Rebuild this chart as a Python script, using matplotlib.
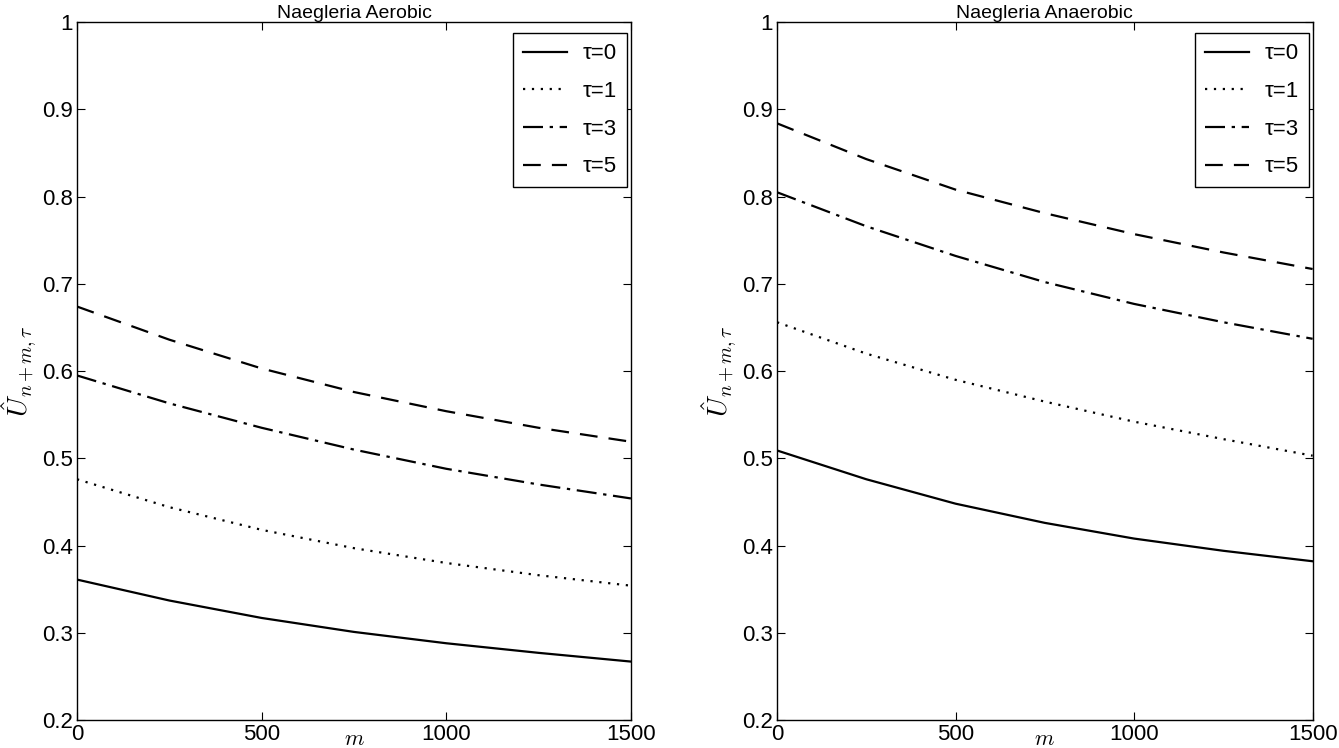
import numpy as np
import matplotlib
matplotlib.use("Agg")
import matplotlib.pyplot as plt

plt.rcParams['font.family'] = ['Liberation Sans', 'DejaVu Sans']
plt.rcParams['mathtext.fontset'] = 'cm'

m = [0, 250, 500, 750, 1000, 1250, 1500]
taus = [0, 1, 3, 5]

# Naegleria Aerobic
aer_tau0 = [0.361, 0.337, 0.317, 0.301, 0.288, 0.277, 0.267]
aer_tau1 = [0.476, 0.444, 0.418, 0.397, 0.380, 0.366, 0.354]
aer_tau3 = [0.595, 0.563, 0.535, 0.510, 0.488, 0.470, 0.454]
aer_tau5 = [0.674, 0.636, 0.603, 0.576, 0.554, 0.535, 0.519]

# Naegleria Anaerobic
ana_tau0 = [0.509, 0.476, 0.448, 0.426, 0.408, 0.394, 0.382]
ana_tau1 = [0.656, 0.620, 0.590, 0.565, 0.542, 0.522, 0.503]
ana_tau3 = [0.805, 0.766, 0.732, 0.702, 0.677, 0.656, 0.637]
ana_tau5 = [0.884, 0.843, 0.808, 0.781, 0.757, 0.736, 0.717]

styles = ['-', (0, (1, 3)), (0, (9, 3, 1.5, 3)), (0, (8, 5))]

fig = plt.figure(figsize=(13.39, 7.48), dpi=100)
ax1 = fig.add_axes([0.0575, 0.0374, 0.4137, 0.933])
ax2 = fig.add_axes([0.5803, 0.0374, 0.4, 0.933])

panels = [
    (ax1, "Naegleria Aerobic", [aer_tau0, aer_tau1, aer_tau3, aer_tau5]),
    (ax2, "Naegleria Anaerobic", [ana_tau0, ana_tau1, ana_tau3, ana_tau5]),
]

for ax, title, series in panels:
    for t, ys, ls in zip(taus, series, styles):
        ax.plot(m, ys, color='black', linestyle=ls, linewidth=1.6, label=f"τ={t}")
    ax.set_xlim(0, 1500)
    ax.set_ylim(0.2, 1.0)
    ax.set_xticks([0, 500, 1000, 1500])
    ax.set_yticks(np.arange(0.2, 1.01, 0.1))
    ax.set_yticklabels(['0.2', '0.3', '0.4', '0.5', '0.6', '0.7', '0.8', '0.9', '1'])
    ax.tick_params(direction='in', top=True, right=True, labelsize=16, length=6, width=0.8, pad=3)
    for s in ax.spines.values():
        s.set_linewidth(1.0)
    ax.set_title(title, fontsize=14, pad=3)
    ax.set_xlabel(r"$m$", fontsize=16)
    ax.xaxis.set_label_coords(0.5, -0.028)
    ax.xaxis.label.set_va('center')
    ax.set_ylabel(r"$\hat{U}_{n+m,\tau}$", fontsize=20, labelpad=2)
    leg = ax.legend(loc='upper right', fontsize=16, handlelength=2.0, labelspacing=0.75,
                    handletextpad=0.7, fancybox=False, edgecolor='black', framealpha=1,
                    borderpad=0.45, borderaxespad=0, bbox_to_anchor=(0.993, 0.984))
    leg.get_frame().set_linewidth(1.0)

fig.savefig("out.png", dpi=100)
